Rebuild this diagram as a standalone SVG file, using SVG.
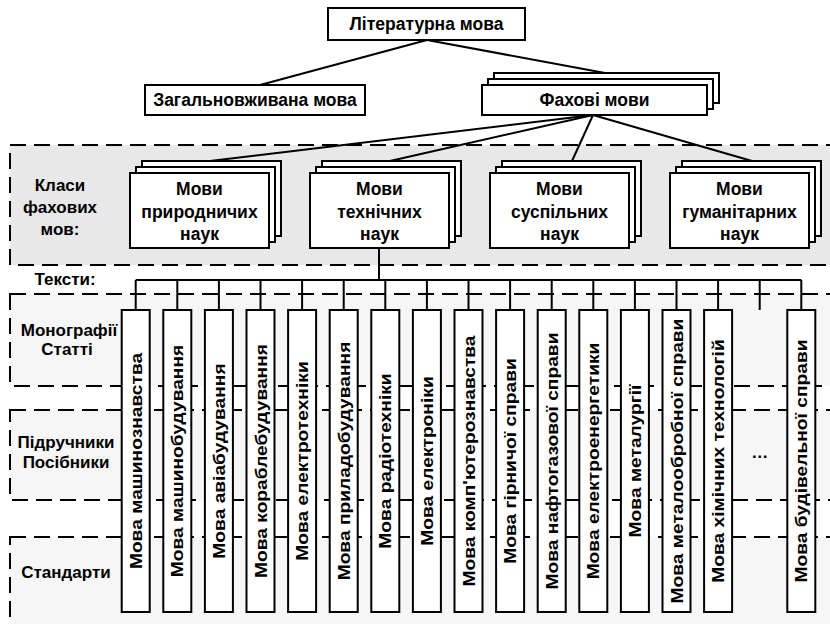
<svg xmlns="http://www.w3.org/2000/svg" width="830" height="624" viewBox="0 0 830 624">
<style>
.box{fill:#fff;stroke:#000;stroke-width:2}
.ln{fill:none;stroke:#000;stroke-width:2}
.band{stroke:#000;stroke-width:2;stroke-dasharray:16 8}
.t{font-family:"Liberation Sans",Arial,sans-serif;font-weight:bold;font-size:17px;fill:#000;text-anchor:middle}
.b{font-size:17.5px}
.c{font-family:"Liberation Sans",Arial,sans-serif;font-weight:bold;font-size:17px;fill:#000;text-anchor:middle}
</style>
<rect width="830" height="624" fill="#fff"/>
<g id="bands">
<rect class="band" x="10" y="145" width="840" height="120" fill="#e8e8e8"/>
<rect class="band" x="10" y="294" width="840" height="92" fill="#f6f6f6"/>
<rect class="band" x="10" y="410" width="840" height="90" fill="#f6f6f6"/>
<rect class="band" x="10" y="537" width="840" height="100" fill="#f6f6f6"/>
</g>
<g id="labels">
<text class="t" x="60" y="191">Класи</text>
<text class="t" x="60" y="213">фахових</text>
<text class="t" x="60" y="235">мов:</text>
<text class="t" x="65" y="285">Тексти:</text>
<text class="t" x="69" y="336">Монографії</text>
<text class="t" x="67" y="355">Статті</text>
<text class="t" x="66" y="448">Підручники</text>
<text class="t" x="66" y="468">Посібники</text>
<text class="t" x="66" y="578">Стандарти</text>
</g>
<g id="connectors" class="ln">
<line x1="427" y1="40" x2="260" y2="85"/>
<line x1="427" y1="40" x2="605" y2="73"/>
<line x1="593" y1="115" x2="210" y2="161"/>
<line x1="593" y1="115" x2="390" y2="161"/>
<line x1="593" y1="115" x2="572" y2="161"/>
<line x1="593" y1="115" x2="752" y2="161"/>
<line x1="379" y1="248" x2="379" y2="280"/>
<line x1="135.7" y1="280" x2="801.3" y2="280"/>
<path d="M135.7 280V310M177.3 280V310M218.9 280V310M260.5 280V310M302.1 280V310M343.7 280V310M385.3 280V310M426.9 280V310M468.5 280V310M510.1 280V310M551.7 280V310M593.3 280V310M634.9 280V310M676.5 280V310M718.1 280V310M759.7 280V310M801.3 280V310"/>
</g>
<g id="lit">
<rect class="box" x="328" y="8" width="197" height="32"/>
<text class="t b" x="426.5" y="30">Літературна мова</text>
</g>
<g id="zagal">
<rect class="box" x="145" y="85" width="220" height="30"/>
<text class="t b" x="255" y="106">Загальновживана мова</text>
</g>
<g id="fakhovi">
<rect class="box" x="494" y="73" width="225" height="30"/>
<rect class="box" x="488" y="79" width="225" height="30"/>
<rect class="box" x="482" y="85" width="225" height="30"/>
<text class="t b" x="594.5" y="106">Фахові мови</text>
</g>
<g id="pryrodn">
<rect class="box" x="142" y="161" width="139" height="75"/>
<rect class="box" x="136" y="167" width="139" height="75"/>
<rect class="box" x="130" y="173" width="139" height="75"/>
<text class="t b" x="199.5" y="195">Мови</text>
<text class="t b" x="199.5" y="218">природничих</text>
<text class="t b" x="199.5" y="240">наук</text>
</g>
<g id="tekhn">
<rect class="box" x="322" y="161" width="139" height="75"/>
<rect class="box" x="316" y="167" width="139" height="75"/>
<rect class="box" x="310" y="173" width="139" height="75"/>
<text class="t b" x="379.5" y="195">Мови</text>
<text class="t b" x="379.5" y="218">технічних</text>
<text class="t b" x="379.5" y="240">наук</text>
</g>
<g id="suspil">
<rect class="box" x="502" y="161" width="139" height="75"/>
<rect class="box" x="496" y="167" width="139" height="75"/>
<rect class="box" x="490" y="173" width="139" height="75"/>
<text class="t b" x="559.5" y="195">Мови</text>
<text class="t b" x="559.5" y="218">суспільних</text>
<text class="t b" x="559.5" y="240">наук</text>
</g>
<g id="gumanit">
<rect class="box" x="682" y="161" width="139" height="75"/>
<rect class="box" x="676" y="167" width="139" height="75"/>
<rect class="box" x="670" y="173" width="139" height="75"/>
<text class="t b" x="739.5" y="195">Мови</text>
<text class="t b" x="739.5" y="218">гуманітарних</text>
<text class="t b" x="739.5" y="240">наук</text>
</g>
<g id="c0"><rect class="box" x="121.7" y="310" width="28" height="302"/><text class="c" transform="translate(135.7,461) rotate(-90) scale(1.13,1)" y="6">Мова машинознавства</text></g>
<g id="c1"><rect class="box" x="163.3" y="310" width="28" height="302"/><text class="c" transform="translate(177.3,461) rotate(-90) scale(1.13,1)" y="6">Мова машинобудування</text></g>
<g id="c2"><rect class="box" x="204.9" y="310" width="28" height="302"/><text class="c" transform="translate(218.9,461) rotate(-90) scale(1.13,1)" y="6">Мова авіабудування</text></g>
<g id="c3"><rect class="box" x="246.5" y="310" width="28" height="302"/><text class="c" transform="translate(260.5,461) rotate(-90) scale(1.13,1)" y="6">Мова кораблебудування</text></g>
<g id="c4"><rect class="box" x="288.1" y="310" width="28" height="302"/><text class="c" transform="translate(302.1,461) rotate(-90) scale(1.13,1)" y="6">Мова електротехніки</text></g>
<g id="c5"><rect class="box" x="329.7" y="310" width="28" height="302"/><text class="c" transform="translate(343.7,461) rotate(-90) scale(1.13,1)" y="6">Мова приладобудування</text></g>
<g id="c6"><rect class="box" x="371.3" y="310" width="28" height="302"/><text class="c" transform="translate(385.3,461) rotate(-90) scale(1.13,1)" y="6">Мова радіотехніки</text></g>
<g id="c7"><rect class="box" x="412.9" y="310" width="28" height="302"/><text class="c" transform="translate(426.9,461) rotate(-90) scale(1.13,1)" y="6">Мова електроніки</text></g>
<g id="c8"><rect class="box" x="454.5" y="310" width="28" height="302"/><text class="c" transform="translate(468.5,461) rotate(-90) scale(1.13,1)" y="6">Мова комп'ютерознавства</text></g>
<g id="c9"><rect class="box" x="496.1" y="310" width="28" height="302"/><text class="c" transform="translate(510.1,461) rotate(-90) scale(1.13,1)" y="6">Мова гірничої справи</text></g>
<g id="c10"><rect class="box" x="537.7" y="310" width="28" height="302"/><text class="c" transform="translate(551.7,461) rotate(-90) scale(1.13,1)" y="6">Мова нафтогазової справи</text></g>
<g id="c11"><rect class="box" x="579.3" y="310" width="28" height="302"/><text class="c" transform="translate(593.3,461) rotate(-90) scale(1.13,1)" y="6">Мова електроенергетики</text></g>
<g id="c12"><rect class="box" x="620.9" y="310" width="28" height="302"/><text class="c" transform="translate(634.9,461) rotate(-90) scale(1.13,1)" y="6">Мова металургії</text></g>
<g id="c13"><rect class="box" x="662.5" y="310" width="28" height="302"/><text class="c" transform="translate(676.5,461) rotate(-90) scale(1.13,1)" y="6">Мова металообробної справи</text></g>
<g id="c14"><rect class="box" x="704.1" y="310" width="28" height="302"/><text class="c" transform="translate(718.1,461) rotate(-90) scale(1.13,1)" y="6">Мова хімічних технологій</text></g>
<g id="dots"><text class="t" x="759.7" y="458">…</text></g>
<g id="c16"><rect class="box" x="787.3" y="310" width="28" height="302"/><text class="c" transform="translate(801.3,461) rotate(-90) scale(1.13,1)" y="6">Мова будівельної справи</text></g>
</svg>
